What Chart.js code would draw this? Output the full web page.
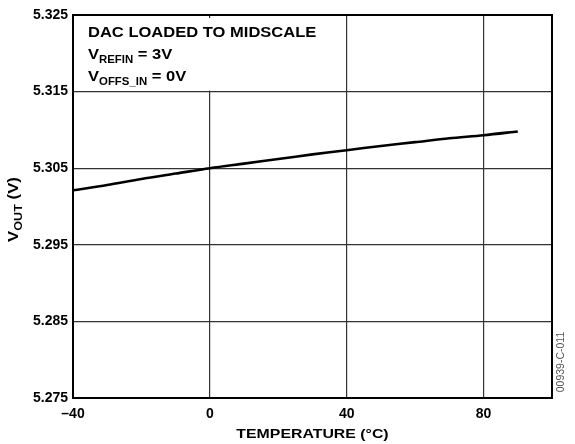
<!DOCTYPE html>
<html>
<head>
<meta charset="utf-8">
<script src="https://cdn.jsdelivr.net/npm/chart.js@4/dist/chart.umd.min.js"></script>
<style>
  html, body { margin: 0; padding: 0; background: #fff; }
  #wrap { width: 575px; height: 444px; position: relative; }
</style>
</head>
<body>
<div id="wrap"><canvas id="vout_chart"></canvas></div>
<script>
// data
const temperature = [-40, -30, -20, -10, 0, 10, 20, 30, 40, 50, 60, 70, 80, 90];
const vout = [5.3021, 5.3028, 5.3036, 5.3043, 5.3050, 5.3056, 5.3062, 5.3068, 5.30735, 5.3079, 5.3084, 5.3089, 5.3093, 5.3098];
const xTicks = [-40, 0, 40, 80];
const yTicks = [5.275, 5.285, 5.295, 5.305, 5.315, 5.325];

const FONT = '"Liberation Sans", Arial, sans-serif';

// width of text with subscript parts (unscaled)
function subWidth(ctx, parts, big, small) {
    let w = 0;
    for (const p of parts) {
        ctx.font = 'bold ' + (p.sub ? small : big) + 'px ' + FONT;
        w += ctx.measureText(p.t).width;
    }
    return w;
}

// draws text with subscript parts, stretched sideways by sx (the original type is wide)
function drawSub(ctx, x, y, parts, big, small, sx) {
    ctx.save();
    ctx.translate(x, y);
    ctx.scale(sx, 1);
    let cx = 0;
    for (const p of parts) {
        ctx.font = 'bold ' + (p.sub ? small : big) + 'px ' + FONT;
        ctx.fillText(p.t, cx, p.sub ? 4 : 0);
        cx += ctx.measureText(p.t).width;
    }
    ctx.restore();
}

const extras = {
    id: 'extras',
    beforeDatasetsDraw(chart) {
        const ctx = chart.ctx;
        const a = chart.chartArea;
        const xs = chart.scales.x, ys = chart.scales.y;
        // blank box behind the note (the 0 gridline stops at 5.315)
        ctx.save();
        ctx.fillStyle = '#fff';
        ctx.fillRect(a.left + 1, a.top + 3, xs.getPixelForValue(40) - a.left - 2, ys.getPixelForValue(5.315) - a.top - 4);
        ctx.restore();
    },
    afterDraw(chart) {
        const ctx = chart.ctx;
        const a = chart.chartArea;
        ctx.save();
        // frame
        ctx.strokeStyle = '#000';
        ctx.lineWidth = 2;
        ctx.strokeRect(a.left, a.top, a.right - a.left, a.bottom - a.top);

        // note
        ctx.fillStyle = '#000';
        ctx.textBaseline = 'alphabetic';
        ctx.textAlign = 'left';
        drawSub(ctx, 88, 37, [{t: 'DAC LOADED TO MIDSCALE'}], 14.5, 10, 1.14);
        drawSub(ctx, 88, 59, [{t: 'V'}, {t: 'REFIN', sub: true}, {t: ' = 3V'}], 14.5, 10, 1.14);
        drawSub(ctx, 88, 81, [{t: 'V'}, {t: 'OFFS_IN', sub: true}, {t: ' = 0V'}], 14.5, 10, 1.14);

        // x axis title
        const xTitle = [{t: 'TEMPERATURE (\u00B0C)'}];
        const xw = subWidth(ctx, xTitle, 13, 10) * 1.22;
        drawSub(ctx, (a.left + a.right) / 2 - xw / 2, 437.5, xTitle, 13, 10, 1.22);

        // y axis title
        const yTitle = [{t: 'V'}, {t: 'OUT', sub: true}, {t: ' (V)'}];
        ctx.save();
        ctx.translate(18, (a.top + a.bottom) / 2 + 3);
        ctx.rotate(-Math.PI / 2);
        const yw = subWidth(ctx, yTitle, 14, 10.5) * 1.2;
        drawSub(ctx, -yw / 2, 0, yTitle, 14, 10.5, 1.2);
        ctx.restore();

        // figure code
        ctx.save();
        ctx.translate(564, 362);
        ctx.rotate(-Math.PI / 2);
        ctx.font = '10.5px ' + FONT;
        ctx.fillStyle = '#555';
        ctx.textAlign = 'center';
        ctx.fillText('00939-C-011', 0, 0);
        ctx.restore();
        ctx.restore();
    }
};

new Chart(document.getElementById('vout_chart'), {
    type: 'line',
    data: {
        datasets: [{
            data: temperature.map((t, i) => ({x: t, y: vout[i]})),
            borderColor: '#000',
            borderWidth: 2.6,
            pointRadius: 0,
            tension: 0.3,
            fill: false
        }]
    },
    options: {
        responsive: true,
        maintainAspectRatio: false,
        animation: false,
        layout: { padding: { top: 15, right: 23, left: 0, bottom: 0 } },
        plugins: { legend: { display: false }, tooltip: { enabled: false } },
        scales: {
            x: {
                type: 'linear',
                min: -40,
                max: 100,
                afterBuildTicks: s => { s.ticks = xTicks.map(v => ({value: v})); },
                afterFit: s => { s.height = 46; },
                ticks: {
                    color: '#000',
                    font: { family: FONT, size: 14, weight: 'bold' },
                    padding: 8,
                    maxRotation: 0,
                    callback: v => String(v).replace('-', '\u2013')
                },
                grid: { color: '#333', lineWidth: 1.2, drawTicks: false },
                border: { display: false }
            },
            y: {
                type: 'linear',
                min: 5.275,
                max: 5.325,
                afterBuildTicks: s => { s.ticks = yTicks.map(v => ({value: v})); },
                afterFit: s => { s.width = 73; },
                ticks: {
                    color: '#000',
                    font: { family: FONT, size: 14, weight: 'bold' },
                    padding: 5,
                    callback: v => v.toFixed(3)
                },
                grid: { color: '#333', lineWidth: 1.2, drawTicks: false },
                border: { display: false }
            }
        }
    },
    plugins: [extras]
});
</script>
</body>
</html>
